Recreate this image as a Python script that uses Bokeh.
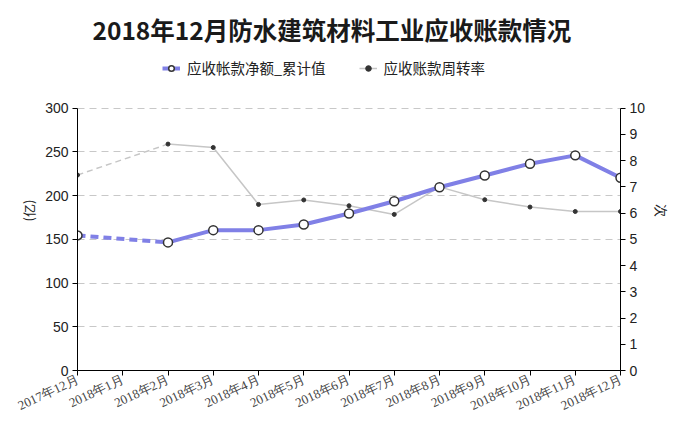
import math
from bokeh.plotting import figure
from bokeh.models import Range1d, LinearAxis, FixedTicker, Legend, LegendItem
from bokeh.embed import file_html
from bokeh.resources import INLINE

# ---- data ----
months = ["2017年12月", "2018年1月", "2018年2月", "2018年3月", "2018年4月", "2018年5月",
          "2018年6月", "2018年7月", "2018年8月", "2018年9月", "2018年10月", "2018年11月", "2018年12月"]
receivable = [154.5, float("nan"), 146.5, 160.5, 160.5, 167.0, 179.5, 193.5, 209.5, 223.0, 236.5, 246.0, 220.5]
turnover = [7.45, float("nan"), 8.63, 8.50, 6.33, 6.50, 6.28, 5.95, 7.0, 6.51, 6.23, 6.06, 6.06]
series_names = ["应收帐款净额_累计值", "应收账款周转率"]
title_text = "2018年12月防水建筑材料工业应收账款情况"
left_label = "(亿)"
right_label = "次"
left_ticks = [0, 50, 100, 150, 200, 250, 300]
right_ticks = [0, 1, 2, 3, 4, 5, 6, 7, 8, 9, 10]

idx = list(range(len(months)))


def bridges(xs, ys):
    """segments spanning missing values"""
    out = []
    valid = [i for i, v in enumerate(ys) if not (isinstance(v, float) and math.isnan(v))]
    for a, b in zip(valid[:-1], valid[1:]):
        if b - a > 1:
            out.append(([xs[a], xs[b]], [ys[a], ys[b]]))
    return out


# ---- layout (pixels) ----
W, H = 674, 422
TOP, BOTTOM, LEFT, RIGHT = 50, 50, 77, 45
FRAME_H = H - TOP - BOTTOM
AXIS_H = FRAME_H - 58          # the axes occupy the lower part of the frame; legend sits above
l_end = left_ticks[-1] * FRAME_H / AXIS_H
r_end = right_ticks[-1] * FRAME_H / AXIS_H

BLUE = "#8080e6"
GRAY = "#c6c6c6"

p = figure(width=W, height=H, output_backend="svg", toolbar_location=None,
           x_range=Range1d(idx[0], idx[-1]), y_range=Range1d(0, l_end),
           min_border_left=LEFT, min_border_right=RIGHT, min_border_top=TOP, min_border_bottom=BOTTOM)
p.outline_line_color = None
p.background_fill_color = "white"
p.border_fill_color = "white"

p.title.text = title_text
p.title.align = "left"
p.title.offset = 15
p.title.standoff = 8
p.title.text_font = "Noto Sans CJK SC"
p.title.text_font_size = "24.5px"
p.title.text_font_style = "bold"
p.title.text_color = "#1a1a1a"

p.extra_y_ranges = {"rate": Range1d(0, r_end)}

# grid
p.xgrid.visible = False
p.ygrid.ticker = FixedTicker(ticks=left_ticks)
p.ygrid.grid_line_color = "#c8c8c8"
p.ygrid.grid_line_dash = "7 5"
p.ygrid.grid_line_width = 1

# axes
xa = p.xaxis[0]
xa.ticker = FixedTicker(ticks=idx)
xa.major_label_overrides = {i: m for i, m in zip(idx, months)}
xa.major_label_orientation = 0.44
xa.major_label_text_font = "Liberation Serif"
xa.major_label_text_font_size = "13px"
xa.major_label_text_color = "#444444"
xa.major_label_standoff = 3
xa.minor_tick_line_color = None
xa.major_tick_in = 0
xa.major_tick_out = 5
xa.axis_line_color = "black"
xa.major_tick_line_color = "black"

ya = p.yaxis[0]
ya.ticker = FixedTicker(ticks=left_ticks)
ya.axis_label = left_label
ya.bounds = (left_ticks[0], left_ticks[-1])

ra = LinearAxis(y_range_name="rate", ticker=FixedTicker(ticks=right_ticks), axis_label=right_label,
                bounds=(right_ticks[0], right_ticks[-1]))
p.add_layout(ra, "right")

for ax in [ya, ra]:
    ax.minor_tick_line_color = None
    ax.major_tick_in = 0
    ax.major_tick_out = 5
    ax.axis_line_color = "black"
    ax.major_tick_line_color = "black"
    ax.major_label_text_font = "Liberation Sans"
    ax.major_label_text_font_size = "14px"
    ax.major_label_text_color = "#222222"
    ax.major_label_standoff = 4
    ax.axis_label_text_font = "Noto Sans CJK SC"
    ax.axis_label_text_font_size = "13px"
    ax.axis_label_text_font_style = "normal"
    ax.axis_label_text_color = "#222222"
    ax.axis_label_standoff = 4

# turnover (right axis)
for bx, by in bridges(idx, turnover):
    p.line(bx, by, y_range_name="rate", line_color=GRAY, line_width=1.5, line_dash="6 4")
rate_line = p.line(idx, turnover, y_range_name="rate", line_color=GRAY, line_width=1.5)
rate_dots = p.scatter(idx, turnover, y_range_name="rate", size=4, fill_color="#333333",
                      line_color="#333333")

# receivable (left axis)
for bx, by in bridges(idx, receivable):
    p.line(bx, by, line_color=BLUE, line_width=4, line_dash="8 5")
rec_line = p.line(idx, receivable, line_color=BLUE, line_width=4)
rec_dots = p.scatter(idx, receivable, size=9, fill_color="white", line_color="#333333",
                     line_width=1.5)

legend = Legend(items=[LegendItem(label=series_names[0], renderers=[rec_line, rec_dots]),
                       LegendItem(label=series_names[1], renderers=[rate_line, rate_dots])],
                location=(85, FRAME_H - 70 + TOP - 10), orientation="horizontal")
legend.glyph_width = 18
legend.glyph_height = 14
legend.label_standoff = 7
legend.spacing = 33
legend.padding = 0
legend.margin = 0
legend.border_line_color = None
legend.background_fill_alpha = 0
legend.label_text_font = "Noto Sans CJK SC"
legend.label_text_font_size = "14.5px"
legend.label_text_color = "#222222"
legend.label_height = 20
p.add_layout(legend, "center")

open("out.html", "w").write(file_html(p, INLINE))
